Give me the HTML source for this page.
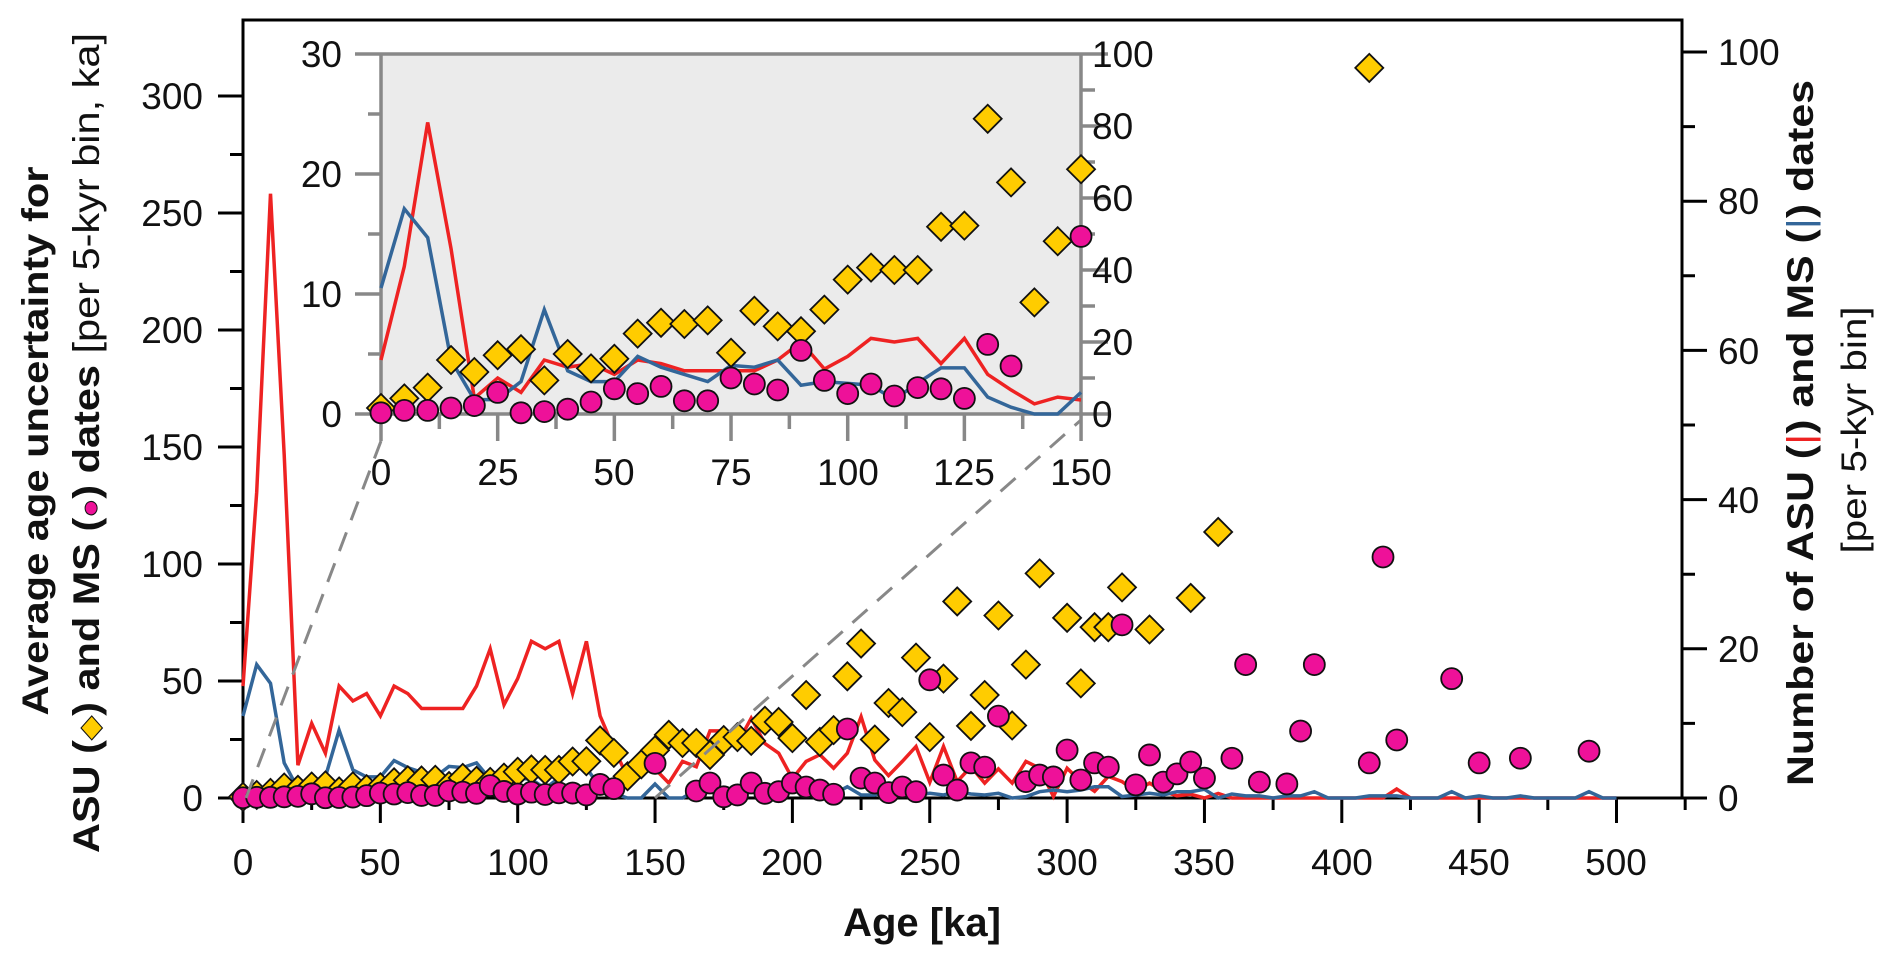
<!DOCTYPE html>
<html><head><meta charset="utf-8"><style>
html,body{margin:0;padding:0;background:#fff;}
svg{display:block;font-family:"Liberation Sans",Arial,sans-serif;}
</style></head><body>
<svg id="s" width="1892" height="954" viewBox="0 0 1892 954" xmlns="http://www.w3.org/2000/svg">
<rect x="0" y="0" width="1892" height="954" fill="#fff"/>
<g id="main"></g>
<g id="inset"></g>
<g id="txt" font-size="37" fill="#111">
<g text-anchor="middle">
<text x="243" y="875">0</text><text x="380" y="875">50</text><text x="518" y="875">100</text><text x="655" y="875">150</text><text x="792" y="875">200</text><text x="930" y="875">250</text><text x="1067" y="875">300</text><text x="1204" y="875">350</text><text x="1342" y="875">400</text><text x="1479" y="875">450</text><text x="1616" y="875">500</text>
</g>
<g text-anchor="end">
<text x="203" y="811">0</text><text x="203" y="694">50</text><text x="203" y="577">100</text><text x="203" y="460">150</text><text x="203" y="343">200</text><text x="203" y="226">250</text><text x="203" y="109">300</text>
</g>
<g text-anchor="start">
<text x="1718" y="811">0</text><text x="1718" y="662">20</text><text x="1718" y="513">40</text><text x="1718" y="364">60</text><text x="1718" y="214">80</text><text x="1718" y="65">100</text>
</g>
<g text-anchor="middle">
<text x="381" y="485">0</text><text x="498" y="485">25</text><text x="614" y="485">50</text><text x="731" y="485">75</text><text x="848" y="485">100</text><text x="964" y="485">125</text><text x="1081" y="485">150</text>
</g>
<g text-anchor="end">
<text x="342" y="427">0</text><text x="342" y="307">10</text><text x="342" y="187">20</text><text x="342" y="67">30</text>
</g>
<g text-anchor="start">
<text x="1092" y="427">0</text><text x="1092" y="355">20</text><text x="1092" y="283">40</text><text x="1092" y="211">60</text><text x="1092" y="139">80</text><text x="1092" y="67">100</text>
</g>
<text x="922" y="936" text-anchor="middle" font-weight="bold" font-size="40">Age [ka]</text>
<text transform="translate(48,441) rotate(-90)" text-anchor="middle" font-weight="bold" font-size="37" textLength="549" lengthAdjust="spacingAndGlyphs">Average age uncertainty for</text>
<text transform="translate(99,443) rotate(-90)" text-anchor="middle" font-size="37" textLength="820" lengthAdjust="spacingAndGlyphs"><tspan font-weight="bold">ASU (</tspan><tspan fill="#FFCC00" stroke="#111" stroke-width="1" font-size="28">◆</tspan><tspan font-weight="bold">) and MS (</tspan><tspan fill="#EE1199" stroke="#111" stroke-width="1" font-size="28">●</tspan><tspan font-weight="bold">) dates</tspan> [per 5-kyr bin, ka]</text>
<text transform="translate(1813,433) rotate(-90)" text-anchor="middle" font-weight="bold" font-size="37" textLength="706" lengthAdjust="spacingAndGlyphs">Number of ASU (<tspan fill="#EE2222" font-weight="normal">|</tspan>) and MS (<tspan fill="#336699" font-weight="normal">|</tspan>) dates</text>
<text transform="translate(1866,430) rotate(-90)" text-anchor="middle" font-size="35" textLength="247" lengthAdjust="spacingAndGlyphs">[per 5-kyr bin]</text>
</g>
</svg>
<script>
(function(){
var NS="http://www.w3.org/2000/svg";
function el(p,t,a){var e=document.createElementNS(NS,t);for(var k in a)e.setAttribute(k,a[k]);p.appendChild(e);return e;}
var M=document.getElementById('main'),I=document.getElementById('inset');
var D={0:0.5,5:1.3,10:2.2,15:4.5,20:3.5,25:4.9,30:5.4,35:2.8,40:5.0,45:3.8,50:4.6,55:6.7,60:7.6,65:7.5,70:7.8,75:5.1,80:8.6,85:7.3,90:6.9,95:8.7,100:11.2,105:12.2,110:12.0,115:12.0,120:15.6,125:15.7,130:24.6,135:19.3,140:9.3,145:14.4,150:20.4,
155:27,160:23.5,165:23.5,170:18.4,175:24.8,180:26,185:24.4,190:33,195:32.5,200:25.6,205:44,210:24,215:29,220:52,225:66,230:25,235:40.6,240:36.7,245:60,250:26,255:51,260:84,265:30.8,270:44,275:78,280:31,285:57,290:96,300:77,305:49,310:73,315:73,320:90,330:72,345:85.5,355:113.7,410:312};
var C={0:0.1,5:0.3,10:0.3,15:0.5,20:0.7,25:1.8,30:0.1,35:0.2,40:0.4,45:1.0,50:2.1,55:1.7,60:2.3,65:1.1,70:1.1,75:3.0,80:2.5,85:2.0,90:5.3,95:2.8,100:1.7,105:2.5,110:1.5,115:2.2,120:2.1,125:1.3,130:5.8,135:4.0,150:14.8,
165:3,170:6.4,175:0.5,180:1.3,185:6.4,190:2,195:2.7,200:6.4,205:4.7,210:3.4,215:1.6,220:29.5,225:8.5,230:6.4,235:2.3,240:4.7,245:2.7,250:50.5,255:9.8,260:3.4,265:15,270:13.2,275:35,285:7,290:9.8,295:9,300:20.5,305:7.7,310:15,315:13.2,320:74,325:5.6,330:18.4,335:6.8,340:10.3,345:15.4,350:8.5,360:17,365:57,370:6.8,380:6,385:28.6,390:57,410:15,415:103,420:24.8,440:51,450:15,465:17,490:20};
var R=[15,41,81,46,4.4,10,6,15,13,14,11,15,14,12,12,12,12,15,20,12.5,16,21,20,21,14,21,11,6.7,2.8,4.7,3.9,
2,4.9,4.2,9,9,7.3,10.7,7.3,6,2.6,4.9,5.8,4,6,10.9,5.1,3,4.9,6.9,2.1,6.9,2.2,4.2,2,3.9,2,4.9,4,0.2,4,2.2,0.9,2.9,2.2,0.9,2,0.9,
0.3,0.5,0,0.6,0,0,0,0,0,0,0,0,0,0,0,0,1.2,0,0,0,0,0,0,0,0,0,0,0,0,0,0,0,0,0];
var B=[35,57,49,15,4,4,9,29,12,9,9,16,13,11,9,13.5,13,15,8,9,8.5,8,4,8.6,12.8,12.8,4.7,1.9,0,0,6,
0,0,3.4,6,2,2,4.8,3.4,3.1,2.7,2.7,3.1,1.7,4.8,1.3,1.3,3.1,6,1.3,2,1.3,2.7,1.7,1.3,2,0,0.6,2.7,3.4,2.7,3.4,4.8,4.8,0.6,1.3,2,
1.3,2.7,2.7,3.7,0,1.7,0.9,0.9,0,0.9,0.9,2.7,0,0,0,0.9,0.9,0.9,0,0,0,2.7,0,0.9,0,0,0.9,0,0,0,0,2.7,0,0];
var X=function(k){return 243+2.747*k;},YL=function(v){return 798-2.34*v;},YR=function(v){return 798-7.46*v;};
var XI=function(k){return 381+4.667*k;},YIL=function(v){return 414-12*v;},YIR=function(v){return 414-3.6*v;};
function poly(g,arr,fx,fy,col,maxk){var p=[];for(var i=0;i<arr.length;i++){var k=i*5;if(k>maxk)break;p.push(fx(k).toFixed(1)+','+fy(arr[i]).toFixed(1));}
el(g,'polyline',{points:p.join(' '),fill:'none',stroke:col,'stroke-width':3.5,'stroke-linejoin':'miter'});}
function dia(g,x,y){el(g,'polygon',{points:(x)+','+(y-14)+' '+(x+14)+','+y+' '+x+','+(y+14)+' '+(x-14)+','+y,fill:'#FFCC00',stroke:'#111','stroke-width':1.8});}
function cir(g,x,y){el(g,'circle',{cx:x,cy:y,r:10.5,fill:'#EE1199',stroke:'#111','stroke-width':1.8});}
el(M,'rect',{x:243,y:20,width:1439,height:778,fill:'none',stroke:'#000','stroke-width':3});
var t='';
for(var k=0;k<=525;k+=25){var x=X(k);t+='M'+x+',798V'+(k%50==0?823:810);}
for(var v=0;v<=300;v+=25){var y=YL(v);t+='M243,'+y+'H'+(v%50==0?218:230);}
for(var v=0;v<=100;v+=10){var y=YR(v);t+='M1682,'+y+'H'+(v%20==0?1707:1695);}
el(M,'path',{d:t,stroke:'#000','stroke-width':3,fill:'none'});
poly(M,R,X,YR,'#EE2222',500);
poly(M,B,X,YL,'#336699',500);
for(var k in D)dia(M,X(+k),YL(D[k]));
for(var k in C)cir(M,X(+k),YL(C[k]));
el(M,'line',{x1:246,y1:798,x2:381,y2:441,stroke:'#888','stroke-width':3,'stroke-dasharray':'20 13'});
el(M,'line',{x1:655,y1:798,x2:1081,y2:420,stroke:'#888','stroke-width':3,'stroke-dasharray':'20 13'});
el(I,'rect',{x:381,y:54,width:700,height:360,fill:'#EBEBEB',stroke:'none'});
var ti='';
for(var k=0;k<=150;k+=12.5){var x=XI(k);ti+='M'+x+',414V'+(k%25==0?441:429);}
for(var v=0;v<=30;v+=5){var y=YIL(v);ti+='M381,'+y+'H'+(v%10==0?355:368);}
for(var v=0;v<=100;v+=10){var y=YIR(v);ti+='M1081,'+y+'H'+(v%20==0?1108:1095);}
ti+='M381,414V54H1081V414H381';
el(I,'path',{d:ti,stroke:'#888','stroke-width':3.5,fill:'none'});
poly(I,R,XI,YIR,'#EE2222',150);
poly(I,B,XI,YIR,'#336699',150);
for(var k in D)if(+k<=150)dia(I,XI(+k),YIL(D[k]));
for(var k in C)if(+k<=150)cir(I,XI(+k),YIL(C[k]));
})();
</script>
</body></html>
